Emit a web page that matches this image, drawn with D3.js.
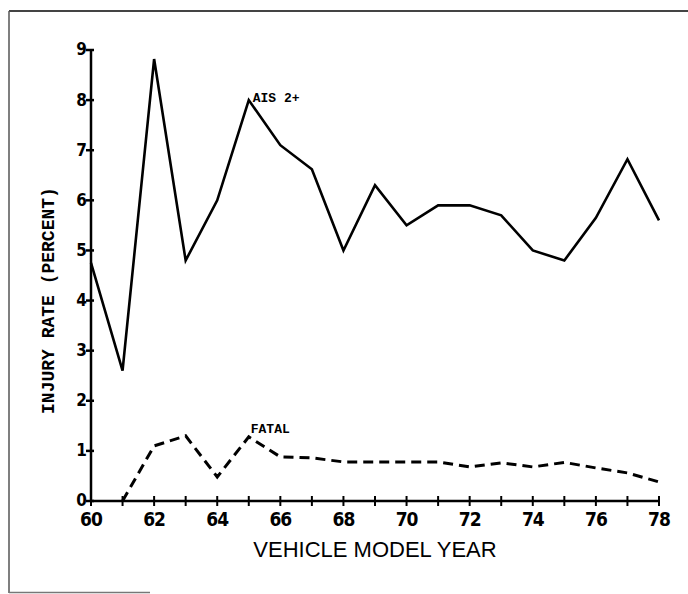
<!DOCTYPE html>
<html>
<head>
<meta charset="utf-8">
<script src="https://cdn.jsdelivr.net/npm/d3@7"></script>
<style>
  body { margin: 0; background: #fff; }
  svg { display: block; }
</style>
</head>
<body>
<div id="chart"></div>
<script>
// model years (x categories)
var years = [60, 61, 62, 63, 64, 65, 66, 67, 68, 69, 70, 71, 72, 73, 74, 75, 76, 77, 78];
// AIS 2+ injury rate, percent
var aisRate = [4.75, 2.6, 8.82, 4.8, 6.0, 8.0, 7.1, 6.62, 5.0, 6.3, 5.5, 5.9, 5.9, 5.7, 5.0, 4.8, 5.65, 6.82, 5.6];
// fatal rate starts at model year 61
var fatalYears = [61, 62, 63, 64, 65, 66, 67, 68, 69, 70, 71, 72, 73, 74, 75, 76, 77, 78];
var fatalRate = [0, 1.1, 1.3, 0.48, 1.28, 0.88, 0.86, 0.78, 0.78, 0.78, 0.78, 0.68, 0.76, 0.68, 0.77, 0.66, 0.56, 0.38];
var yTicks = [0, 1, 2, 3, 4, 5, 6, 7, 8, 9];
var xLabelYears = [60, 62, 64, 66, 68, 70, 72, 74, 76, 78];

var width = 688, height = 594;
var margin = {left: 91, right: 29, top: 50, bottom: 93};

var svg = d3.select("#chart").append("svg")
    .attr("width", width)
    .attr("height", height);

// frame of the scanned figure
svg.append("line")
    .attr("x1", 9).attr("x2", width).attr("y1", 11).attr("y2", 11)
    .attr("stroke", "#444").attr("stroke-width", 2);
svg.append("line")
    .attr("x1", 9).attr("x2", 9).attr("y1", 11).attr("y2", 593)
    .attr("stroke", "#555").attr("stroke-width", 1.5);
svg.append("line")
    .attr("x1", 9).attr("x2", 150).attr("y1", 592.5).attr("y2", 592.5)
    .attr("stroke", "#777").attr("stroke-width", 1.5);

var x = d3.scaleLinear()
    .domain([60, 78])
    .range([margin.left, width - margin.right]);

var y = d3.scaleLinear()
    .domain([0, 9])
    .range([height - margin.bottom, margin.top]);

var g = svg.append("g");

// axes drawn plainly, like the plotter original
g.append("line")
    .attr("x1", x(60)).attr("x2", x(78))
    .attr("y1", y(0)).attr("y2", y(0))
    .attr("stroke", "#000").attr("stroke-width", 2.5);
g.append("line")
    .attr("x1", x(60)).attr("x2", x(60))
    .attr("y1", y(0)).attr("y2", y(9))
    .attr("stroke", "#000").attr("stroke-width", 2.5);

g.selectAll(".xtick")
    .data(years)
  .enter().append("line")
    .attr("class", "xtick")
    .attr("x1", d => x(d)).attr("x2", d => x(d))
    .attr("y1", y(0) - 5).attr("y2", y(0) + 5)
    .attr("stroke", "#000").attr("stroke-width", 2);

g.selectAll(".ytick")
    .data(yTicks)
  .enter().append("line")
    .attr("class", "ytick")
    .attr("x1", x(60) - 5).attr("x2", x(60) + 3)
    .attr("y1", d => y(d)).attr("y2", d => y(d))
    .attr("stroke", "#000").attr("stroke-width", 2.5);

var tickFont = "'DejaVu Sans Condensed', 'DejaVu Sans', sans-serif";

g.selectAll(".ylabel")
    .data(yTicks)
  .enter().append("text")
    .attr("class", "ylabel")
    .attr("x", x(60) - 4)
    .attr("y", d => y(d))
    .attr("dy", "0.32em")
    .attr("text-anchor", "end")
    .style("font-family", tickFont)
    .style("font-weight", "bold")
    .style("font-size", "17px")
    .text(d => d);

g.selectAll(".xlabel")
    .data(xLabelYears)
  .enter().append("text")
    .attr("class", "xlabel")
    .attr("x", d => x(d))
    .attr("y", y(0) + 25)
    .attr("text-anchor", "middle")
    .style("font-family", tickFont)
    .style("font-weight", "bold")
    .style("font-size", "19px")
    .style("letter-spacing", "-1px")
    .text(d => d);

svg.append("text")
    .attr("x", (x(60) + x(78)) / 2)
    .attr("y", y(0) + 56)
    .attr("text-anchor", "middle")
    .style("font-family", "'Liberation Sans', Arial, sans-serif")
    .style("font-size", "22px")
    .text("VEHICLE MODEL YEAR");

svg.append("text")
    .attr("transform", "translate(54," + y(4) + ") rotate(-90)")
    .attr("text-anchor", "middle")
    .style("font-family", "'Liberation Mono', monospace")
    .style("font-weight", "bold")
    .style("font-size", "18px")
    .text("INJURY RATE (PERCENT)");

var line = d3.line()
    .x(d => x(d[0]))
    .y(d => y(d[1]));

g.append("path")
    .datum(d3.zip(years, aisRate))
    .attr("fill", "none")
    .attr("stroke", "#000")
    .attr("stroke-width", 2.6)
    .attr("stroke-linejoin", "miter")
    .attr("d", line);

g.append("path")
    .datum(d3.zip(fatalYears, fatalRate))
    .attr("fill", "none")
    .attr("stroke", "#000")
    .attr("stroke-width", 3)
    .attr("stroke-dasharray", "10,6")
    .attr("d", line);

g.append("text")
    .attr("x", x(65) + 4)
    .attr("y", y(8) + 2)
    .style("font-family", "'Liberation Mono', monospace")
    .style("font-weight", "bold")
    .style("font-size", "13px")
    .text("AIS 2+");

g.append("text")
    .attr("x", x(65) + 2)
    .attr("y", y(1.3) - 3)
    .style("font-family", "'Liberation Mono', monospace")
    .style("font-weight", "bold")
    .style("font-size", "13px")
    .text("FATAL");
</script>
</body>
</html>
